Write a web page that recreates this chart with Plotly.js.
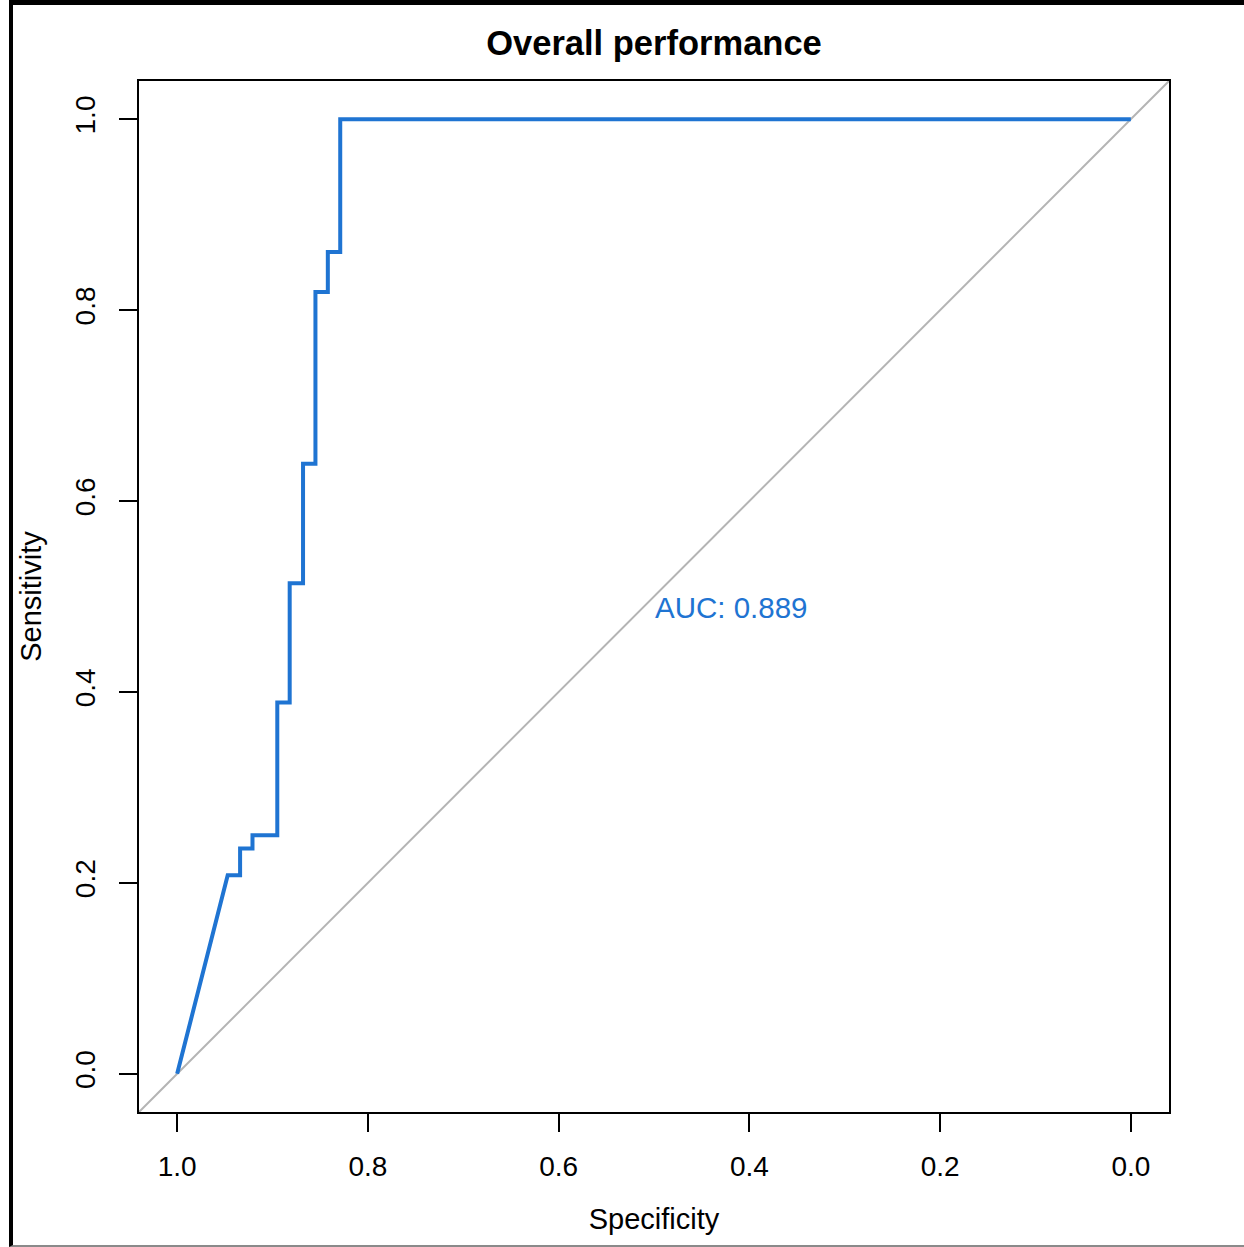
<!DOCTYPE html>
<html>
<head>
<meta charset="utf-8">
<script src="https://cdn.plot.ly/plotly-3.0.1.min.js"></script>
<style>
  html, body { margin: 0; padding: 0; background: #ffffff; }
  #frame { position: absolute; left: 9px; top: 0; width: 1235px; height: 1247px; box-sizing: border-box;
           border-left: 4px solid #000; border-top: 5px solid #000; border-bottom: 2px solid #8a8a8a; }
  #chart { position: absolute; left: 0; top: 0; width: 1244px; height: 1247px; }
</style>
</head>
<body>
<div id="frame"></div>
<div id="chart"></div>
<script>
// ROC curve vertices (specificity, sensitivity)
const specificity = [1.000, 0.947, 0.934, 0.934, 0.921, 0.921, 0.895, 0.895, 0.882, 0.882, 0.868, 0.868, 0.855, 0.855, 0.842, 0.842, 0.829, 0.829, 0.000];
const sensitivity = [0.000, 0.208, 0.208, 0.236, 0.236, 0.250, 0.250, 0.389, 0.389, 0.514, 0.514, 0.639, 0.639, 0.819, 0.819, 0.861, 0.861, 1.000, 1.000];
const tickValues = [1.0, 0.8, 0.6, 0.4, 0.2, 0.0];
const tickLabels = ["1.0", "0.8", "0.6", "0.4", "0.2", "0.0"];
const yTickValues = [0.0, 0.2, 0.4, 0.6, 0.8, 1.0];
const yTickLabels = ["0.0", "0.2", "0.4", "0.6", "0.8", "1.0"];
const aucLabel = "AUC: 0.889";
const aucPos = {x: 0.5, y: 0.5};

const FONT = "Liberation Sans, Arial, sans-serif";
const BLUE = "#1f74d2";

const traces = [{
  type: "scatter", mode: "lines",
  x: specificity, y: sensitivity,
  line: {color: BLUE, width: 4},
  hoverinfo: "skip", showlegend: false
}];

const axisCommon = {
  showgrid: false, zeroline: false,
  showline: true, mirror: true, linecolor: "#000", linewidth: 2,
  ticks: "outside", ticklen: 18, tickwidth: 2, tickcolor: "#000",
  tickfont: {family: FONT, size: 28, color: "#000"},
  automargin: false, fixedrange: true
};

const layout = {
  width: 1244, height: 1247,
  paper_bgcolor: "rgba(0,0,0,0)", plot_bgcolor: "#ffffff",
  margin: {l: 139, r: 75, t: 81, b: 135},
  title: {text: "<b>Overall performance</b>", font: {family: FONT, size: 34.5, color: "#000"},
          x: 0.5, xref: "paper", xanchor: "center", y: 1 - 43/1247, yref: "container", yanchor: "middle"},
  xaxis: Object.assign({}, axisCommon, {
    range: [1.04, -0.04], tickmode: "array", tickvals: tickValues, ticktext: tickLabels,
    ticklabelstandoff: 10,
    title: {text: "Specificity", font: {family: FONT, size: 29, color: "#000"}, standoff: 28}
  }),
  yaxis: Object.assign({}, axisCommon, {
    range: [-0.04, 1.04], tickmode: "array", tickvals: yTickValues, ticktext: yTickLabels,
    tickangle: -90, ticklabelstandoff: 13,
    title: {text: "Sensitivity", font: {family: FONT, size: 29, color: "#000"}, standoff: 20}
  }),
  shapes: [{type: "line", xref: "paper", yref: "paper", x0: 0, y0: 0, x1: 1, y1: 1,
            line: {color: "#b4b4b4", width: 2}, layer: "below"}],
  annotations: [{x: aucPos.x, y: aucPos.y, xref: "x", yref: "y", text: aucLabel, showarrow: false,
                 xanchor: "left", yanchor: "top", borderpad: 0, yshift: 7,
                 font: {family: FONT, size: 29.5, color: BLUE}}]
};

Plotly.newPlot("chart", traces, layout, {displayModeBar: false, staticPlot: true});
</script>
</body>
</html>
